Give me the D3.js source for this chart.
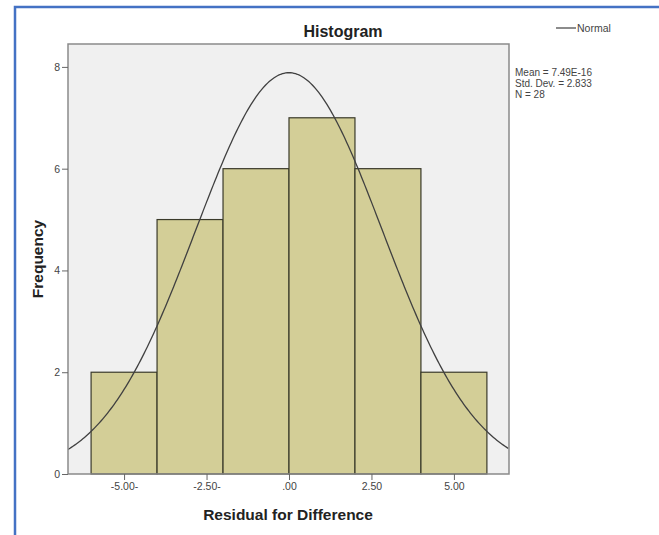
<!DOCTYPE html>
<html>
<head>
<meta charset="utf-8">
<script src="https://cdn.jsdelivr.net/npm/d3@7"></script>
<style>
  body { margin: 0; background: #fff; }
  svg { display: block; font-family: "Liberation Sans", Arial, sans-serif; }
</style>
</head>
<body>
<svg id="view" width="659" height="535"></svg>
<script>
// histogram data
var binEdges = [-6, -4, -2, 0, 2, 4, 6];
var counts = [2, 5, 6, 7, 6, 2];
var xTicks = [-5, -2.5, 0, 2.5, 5];
var xTickLabels = ['-5.00-', '-2.50-', '.00', '2.50', '5.00'];
var yTicks = [0, 2, 4, 6, 8];
var statLines = ['Mean = 7.49E-16', 'Std. Dev. = 2.833', 'N = 28'];
var mean = 7.49e-16, sd = 2.833, n = 28;

var svg = d3.select('svg#view');
var plot = { left: 68, top: 44, right: 509, bottom: 474 };

var x = d3.scaleLinear().domain([-6.7, 6.67]).range([plot.left, plot.right]);
var y = d3.scaleLinear().domain([0, 8.45]).range([plot.bottom, plot.top]);

// blue frame round the picture
svg.append('path')
  .attr('d', 'M15,535 V7 H659')
  .attr('fill', 'none').attr('stroke', '#4472c4').attr('stroke-width', 2.5);

// plot background
svg.append('rect')
  .attr('x', plot.left).attr('y', plot.top)
  .attr('width', plot.right - plot.left).attr('height', plot.bottom - plot.top)
  .attr('fill', '#f0f0f0');

svg.append('defs').append('clipPath').attr('id', 'clip')
  .append('rect')
  .attr('x', plot.left).attr('y', plot.top)
  .attr('width', plot.right - plot.left).attr('height', plot.bottom - plot.top);

// bars
svg.append('g').selectAll('rect')
  .data(counts)
  .join('rect')
  .attr('x', function(d, i) { return x(binEdges[i]); })
  .attr('y', function(d) { return y(d); })
  .attr('width', function(d, i) { return x(binEdges[i + 1]) - x(binEdges[i]); })
  .attr('height', function(d) { return y(0) - y(d); })
  .attr('fill', '#d3ce97')
  .attr('stroke', '#3a3a2a')
  .attr('stroke-width', 1.2);

// normal curve from the stats
var binWidth = binEdges[1] - binEdges[0];
var curve = d3.range(-6.7, 6.7, 0.05).map(function(v) {
  var z = (v - mean) / sd;
  return [v, n * binWidth * Math.exp(-0.5 * z * z) / (sd * Math.sqrt(2 * Math.PI))];
});
svg.append('path')
  .datum(curve)
  .attr('clip-path', 'url(#clip)')
  .attr('fill', 'none')
  .attr('stroke', '#404040')
  .attr('stroke-width', 1.3)
  .attr('d', d3.line().x(function(d) { return x(d[0]); }).y(function(d) { return y(d[1]); }));

// plot frame
svg.append('rect')
  .attr('x', plot.left).attr('y', plot.top)
  .attr('width', plot.right - plot.left).attr('height', plot.bottom - plot.top)
  .attr('fill', 'none').attr('stroke', '#8a8a8a').attr('stroke-width', 1.5);

// axes
var yAxis = svg.append('g')
  .attr('transform', 'translate(' + plot.left + ',0)')
  .call(d3.axisLeft(y).tickValues(yTicks).tickSize(6).tickPadding(2).tickFormat(d3.format('d')));
var xAxis = svg.append('g')
  .attr('transform', 'translate(0,' + plot.bottom + ')')
  .call(d3.axisBottom(x).tickValues(xTicks).tickSize(6).tickPadding(3)
    .tickFormat(function(d, i) { return xTickLabels[i]; }));
[xAxis, yAxis].forEach(function(a) {
  a.select('.domain').remove();
  a.selectAll('line').attr('stroke', '#666');
  a.selectAll('text').attr('fill', '#444').style('font-size', '10.5px').style('font-family', '"Liberation Sans", Arial, sans-serif');
});

// titles
svg.append('text').attr('x', 343).attr('y', 37).attr('text-anchor', 'middle')
  .style('font-size', '16px').style('font-weight', 'bold').attr('fill', '#222').text('Histogram');
svg.append('text').attr('x', 288).attr('y', 520).attr('text-anchor', 'middle')
  .style('font-size', '15.5px').style('font-weight', 'bold').attr('fill', '#222').text('Residual for Difference');
svg.append('text').attr('transform', 'translate(43,' + ((plot.top + plot.bottom) / 2) + ') rotate(-90)')
  .attr('text-anchor', 'middle')
  .style('font-size', '15.5px').style('font-weight', 'bold').attr('fill', '#222').text('Frequency');

// legend
svg.append('line').attr('x1', 556).attr('x2', 576).attr('y1', 28).attr('y2', 28)
  .attr('stroke', '#404040').attr('stroke-width', 1.2);
svg.append('text').attr('x', 577).attr('y', 32).style('font-size', '10.5px').attr('fill', '#444').text('Normal');

svg.append('g').selectAll('text')
  .data(statLines)
  .join('text')
  .attr('x', 515)
  .attr('y', function(d, i) { return 76 + i * 11; })
  .style('font-size', '10px').attr('fill', '#444')
  .text(function(d) { return d; });
</script>
</body>
</html>
